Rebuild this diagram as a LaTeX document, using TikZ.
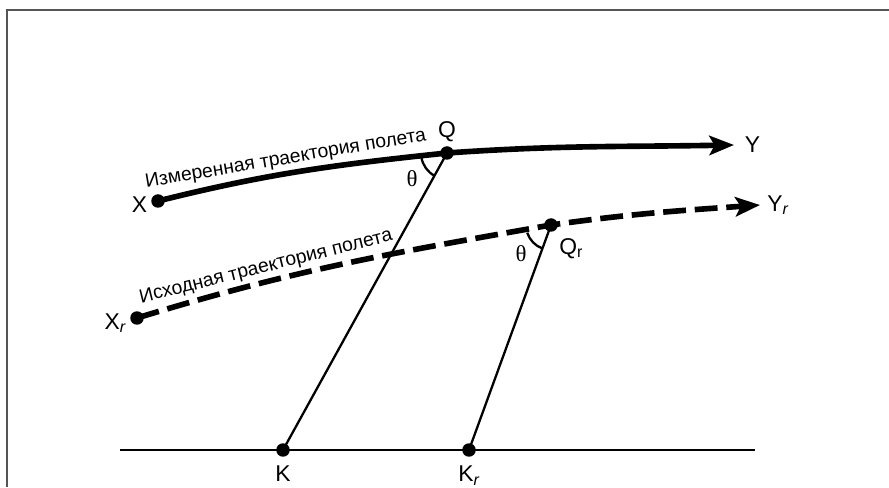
\documentclass[tikz,border=0pt]{standalone}
\usepackage{fontspec}
\setmainfont{Liberation Sans}
\newfontfamily\thetafont{Liberation Serif}
\usetikzlibrary{arrows.meta}
\definecolor{framegray}{RGB}{85,85,85}
\tikzset{
  dot/.style    = {circle, fill=black, inner sep=0pt, minimum size=0.27cm},
  lbl/.style    = {font=\fontsize{13}{15}\selectfont, inner sep=1pt},
  theta/.style  = {font=\thetafont\fontsize{13}{15}\selectfont, inner sep=0pt},
  trtext/.style = {font=\fontsize{11}{13}\selectfont, inner sep=1.5pt, sloped, above},
  traj/.style   = {line width=3.2pt, -{Stealth[length=14pt, width=11pt, inset=3pt]}},
  trajr/.style  = {traj, dash pattern=on 13pt off 5pt},
  thin/.style   = {line width=1.3pt},
}

\begin{document}
\begin{tikzpicture}[x=0.02cm, y=0.02cm]

  \useasboundingbox (0,0) rectangle (889,487);

  %─── Frame (open at right and bottom) ──────────────────────────────────────
  \draw[framegray, line width=1.2pt] (7,0) -- (7,477) -- (889,477);

  %─── Points ───────────────────────────────────────────────────────────────
  \node[dot, label={[lbl, label distance=1pt, yshift=-2pt]left:X}]                (X)  at (158,286) {};
  \node[dot, label={[lbl, label distance=1pt]above:Q}]                           (Q)  at (447,334) {};
  \node[dot, label={[lbl, label distance=1pt, yshift=-3pt]left:X\textsubscript{\itshape r}}] (Xr) at (137,169) {};
  \node[dot, label={[lbl, label distance=1pt, yshift=-3pt]below right:Q\textsubscript{r}}]   (Qr) at (551,262) {};
  \node[dot, label={[lbl, label distance=4pt]below:K}]                           (K)  at (283,37)  {};
  \node[dot, label={[lbl, label distance=4pt]below:K\textsubscript{\itshape r}}] (Kr) at (469,37)  {};

  \coordinate[label={[lbl, label distance=5pt]right:Y}] (Y) at (734,342);
  \coordinate[label={[lbl, label distance=3pt]right:Y\textsubscript{\itshape r}}] (Yr) at (760,282);
  \coordinate (g1) at (120,37);
  \coordinate (g2) at (755,37);

  %─── Ground line and sight lines ──────────────────────────────────────────
  \draw[thin] (g1) -- (g2);
  \draw[thin] (K.center) -- (Q.center);
  \draw[thin] (Kr.center) -- (Qr.center);

  %─── Trajectories ─────────────────────────────────────────────────────────
  % measured
  \draw[traj] (X.center) to[out=14, in=186]
        node[trtext, pos=0.45] {Измеренная траектория полета} (Q.center)
        to[out=4, in=181] (Y);

  % initial
  \draw[trajr] (Xr.center) to[out=17, in=190]
        node[trtext, pos=0.31] {Исходная траектория полета} (Qr.center)
        to[out=8, in=184] (Yr);

  %─── Angles ───────────────────────────────────────────────────────────────
  \draw[thin] ([shift={(190:0.52cm)}]Q.center) arc[start angle=190, end angle=241, radius=0.52cm];
  \draw[thin] ([shift={(198:0.5cm)}]Qr.center) arc[start angle=198, end angle=250, radius=0.5cm];
  \node[theta] (thQ)  at (412,308) {θ};
  \node[theta] (thQr) at (521,233) {θ};

\end{tikzpicture}
\end{document}
